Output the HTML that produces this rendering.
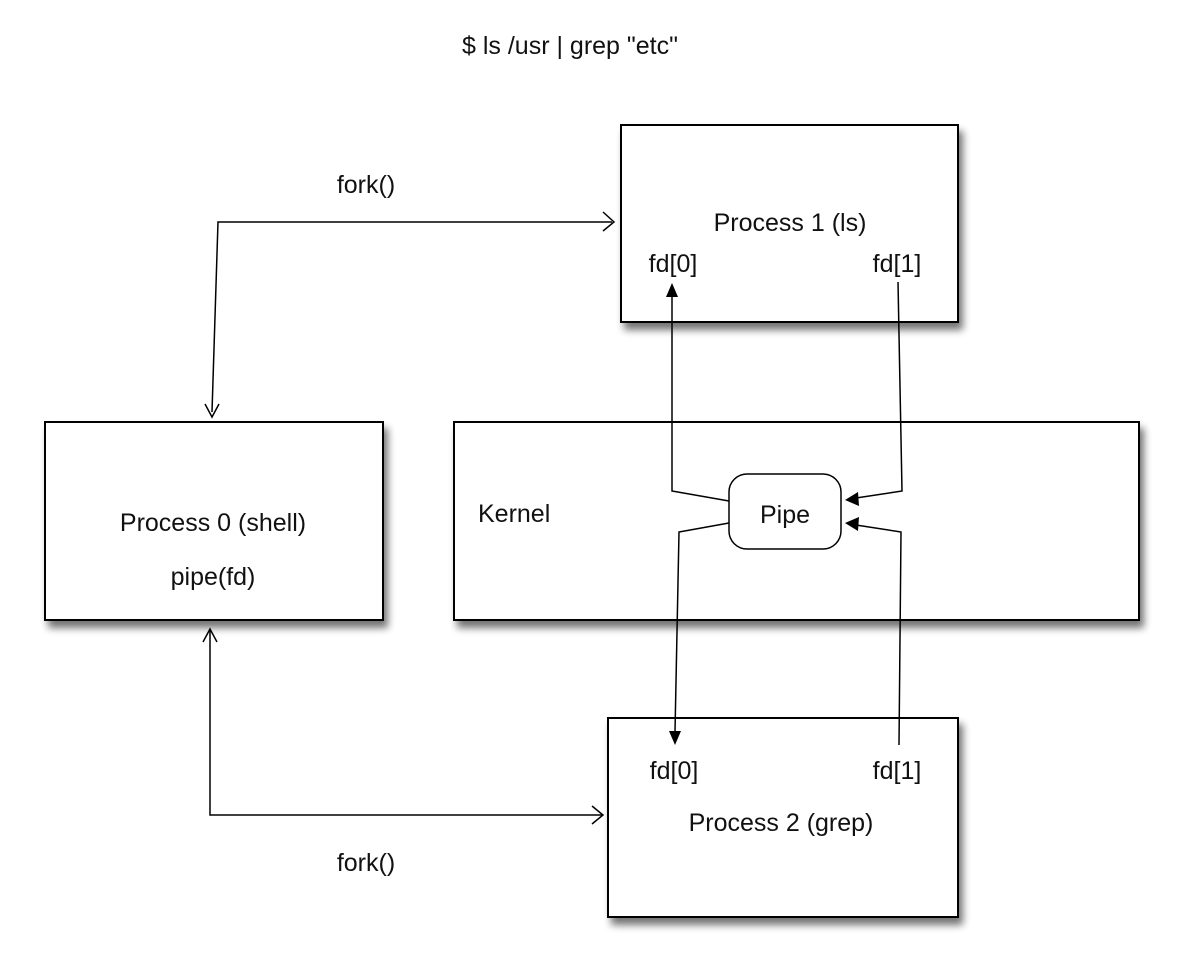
<!DOCTYPE html>
<html><head><meta charset="utf-8"><style>
html,body{margin:0;padding:0;background:#fff;}
svg{display:block;}
text{font-family:"Liberation Sans",sans-serif;font-size:25px;fill:#111;}
</style></head><body>
<svg width="1180" height="968" viewBox="0 0 1180 968" xmlns="http://www.w3.org/2000/svg">
<defs>
<filter id="sh" x="-10%" y="-10%" width="130%" height="140%">
<feGaussianBlur in="SourceAlpha" stdDeviation="4"/>
<feOffset dx="4" dy="7" result="b"/>
<feComponentTransfer><feFuncA type="linear" slope="0.55"/></feComponentTransfer>
<feMerge><feMergeNode/><feMergeNode in="SourceGraphic"/></feMerge>
</filter>
</defs>
<g fill="#fff" stroke="#000" stroke-width="2" filter="url(#sh)">
<rect x="621" y="125" width="337" height="197"/>
<rect x="454" y="422" width="685" height="198"/>
<rect x="45" y="422" width="338" height="198"/>
<rect x="608" y="718" width="350" height="199"/>
</g>
<rect x="729" y="474" width="112" height="75" rx="18" fill="#fff" stroke="#000" stroke-width="1.5"/>
<g fill="none" stroke="#000" stroke-width="1.5">
<polyline points="212,412 218,222 612,222"/>
<polyline points="603,212 614,222 603,231"/>
<polyline points="205,404 212,417 219,404"/>
<polyline points="603,815 210,815 210,630"/>
<polyline points="203,642 210,629 217,642"/>
<polyline points="592,806 603,815 592,824"/>
<polyline points="729,501 672,491 672,296"/>
<polyline points="898,282 902,491 856,498"/>
<polyline points="729,523 679,532 675,732"/>
<polyline points="899,745 901,532 856,525"/>
</g>
<g fill="#000">
<polygon points="672,283 666,297 678,297"/>
<polygon points="845,500 858,492 859,506"/>
<polygon points="675,745 669,731 681,731"/>
<polygon points="845,523 859,517 858,531"/>
</g>
<text x="570" y="54" text-anchor="middle">$ ls /usr | grep "etc"</text>
<text x="366" y="193" text-anchor="middle">fork()</text>
<text x="366" y="871" text-anchor="middle">fork()</text>
<text x="790" y="231" text-anchor="middle">Process 1 (ls)</text>
<text x="673" y="272" text-anchor="middle">fd[0]</text>
<text x="897" y="272" text-anchor="middle">fd[1]</text>
<text x="478" y="522">Kernel</text>
<text x="785" y="523" text-anchor="middle">Pipe</text>
<text x="213" y="531" text-anchor="middle">Process 0 (shell)</text>
<text x="213" y="585" text-anchor="middle">pipe(fd)</text>
<text x="674" y="779" text-anchor="middle">fd[0]</text>
<text x="897" y="779" text-anchor="middle">fd[1]</text>
<text x="781" y="831" text-anchor="middle">Process 2 (grep)</text>
</svg>
</body></html>
